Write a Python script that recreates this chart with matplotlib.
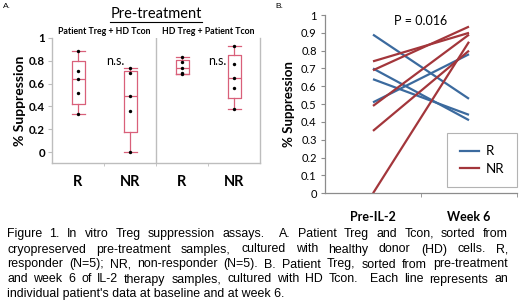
import matplotlib
matplotlib.use("Agg")
import matplotlib.pyplot as plt
import numpy as np
from matplotlib.lines import Line2D

# ---------------- data ----------------
a_groups = ["R", "NR", "R", "NR"]
a_left_R = [0.33, 0.52, 0.64, 0.71, 0.89]
a_left_NR = [0.00, 0.36, 0.49, 0.69, 0.74]
a_right_R = [0.68, 0.69, 0.74, 0.79, 0.83]
a_right_NR = [0.38, 0.56, 0.65, 0.77, 0.93]
a_yticks = [0, 0.2, 0.4, 0.6, 0.8, 1]

b_categories = ["Pre-IL-2", "Week 6"]
b_R_pre = [0.89, 0.70, 0.64, 0.51]
b_R_wk6 = [0.53, 0.41, 0.44, 0.78]
b_NR_pre = [0.74, 0.69, 0.49, 0.35, 0.00]
b_NR_wk6 = [0.90, 0.935, 0.89, 0.80, 0.85]
b_yticks = [0, 0.1, 0.2, 0.3, 0.4, 0.5, 0.6, 0.7, 0.8, 0.9, 1]

caption_lines = [
    "Figure 1. In vitro Treg suppression assays.  A. Patient Treg and Tcon, sorted from",
    "cryopreserved pre-treatment samples, cultured with healthy donor (HD) cells. R,",
    "responder (N=5); NR, non-responder (N=5). B. Patient Treg, sorted from pre-treatment",
    "and week 6 of IL-2 therapy samples, cultured with HD Tcon.  Each line represents an",
    "individual patient's data at baseline and at week 6.",
]

# ---------------- style ----------------
W, H = 520, 303
fig = plt.figure(figsize=(W / 100, H / 100), dpi=100)
fig.patch.set_facecolor("white")
FONT = "Lato"
BOXC = "#d9607a"
BLUE = "#3b6a9e"
RED = "#a3363b"
GRAY = "#bdbdbd"


def px(x, y):
    return x / W, 1 - y / H


def hinge_stats(vals):
    v = np.sort(np.asarray(vals, float))
    n = len(v)
    med = np.median(v)
    lower = v[: n // 2]
    upper = v[(n + 1) // 2:]
    return dict(med=med, q1=np.median(lower), q3=np.median(upper),
                whislo=v.min(), whishi=v.max(), fliers=[])


# ---------------- panel A ----------------
axA = fig.add_axes([52 / W, 1 - 163 / H, 208 / W, 125 / H])
groups = [a_left_R, a_left_NR, a_right_R, a_right_NR]
pos = np.arange(1, len(groups) + 1)
stats = [hinge_stats(g) for g in groups]
lp = dict(color=BOXC, linewidth=0.9)
axA.bxp(stats, positions=pos, widths=0.25, capwidths=0.25, showfliers=False,
        boxprops=lp, whiskerprops=lp, capprops=lp, medianprops=lp)
for p, g in zip(pos, groups):
    axA.scatter([p] * len(g), g, s=6, color="black", zorder=5, linewidths=0)
axA.set_xlim(0.5, 4.5)
axA.set_ylim(-0.096, 1.0)
axA.set_yticks(a_yticks)
axA.set_yticklabels([f"{t:g}" for t in a_yticks], fontsize=8.3,
                    fontweight="bold", family=FONT)
axA.set_xticks(pos)
axA.set_xticklabels(a_groups, fontsize=10.5, fontweight="bold", family=FONT)
axA.set_xticks([1.5, 2.5, 3.5], minor=True)
axA.tick_params(axis="x", which="major", length=0, pad=9)
axA.tick_params(axis="x", which="minor", length=2, color=GRAY)
axA.tick_params(axis="y", length=3, color=GRAY, pad=2)
for s in ["left", "bottom", "right"]:
    axA.spines[s].set_color(GRAY)
    axA.spines[s].set_linewidth(1.0)
axA.spines["top"].set_visible(False)
axA.axvline(2.5, color=GRAY, linewidth=1.0)
axA.set_ylabel("% Suppression", fontsize=10, fontweight="bold", family=FONT,
               labelpad=2)
axA.text(1.55, 0.8, "n.s.", fontsize=9, family=FONT, va="center", ha="left")
axA.text(3.5, 0.8, "n.s.", fontsize=9, family=FONT, va="center", ha="left")
axA.text(1.5, 1.02, "Patient Treg + HD Tcon", fontsize=6.3, fontweight="bold",
         family=FONT, ha="center", va="bottom")
axA.text(3.5, 1.02, "HD Treg + Patient Tcon", fontsize=6.3, fontweight="bold",
         family=FONT, ha="center", va="bottom")
tt = fig.text(*px(156, 14), "Pre-treatment", fontsize=10.5, family=FONT,
              ha="center", va="center")
fig.text(*px(3, 7), "A.", fontsize=6, family="Liberation Sans", va="center")

# ---------------- panel B ----------------
axB = fig.add_axes([325 / W, 1 - 193.3 / H, 192 / W, 178.3 / H])
xs = np.arange(len(b_categories))
for a, b in zip(b_R_pre, b_R_wk6):
    axB.plot(xs, [a, b], color=BLUE, linewidth=1.6, solid_capstyle="butt")
for a, b in zip(b_NR_pre, b_NR_wk6):
    axB.plot(xs, [a, b], color=RED, linewidth=1.6, solid_capstyle="butt")
axB.set_xlim(-0.5, 1.5)
axB.set_ylim(0, 1.0)
axB.set_yticks(b_yticks)
axB.set_yticklabels([f"{t:g}" for t in b_yticks], fontsize=8, family=FONT)
axB.set_xticks(xs)
axB.set_xticklabels(b_categories, fontsize=9, fontweight="bold", family=FONT)
axB.set_xticks([0.5, 1.5], minor=True)
axB.tick_params(axis="x", which="major", length=0, pad=13)
axB.tick_params(axis="x", which="minor", length=3, color="#8c8c8c")
axB.tick_params(axis="y", length=3, color="#8c8c8c", pad=3)
for s in ["top", "right"]:
    axB.spines[s].set_visible(False)
for s in ["left", "bottom"]:
    axB.spines[s].set_color("#8c8c8c")
    axB.spines[s].set_linewidth(0.9)
axB.set_ylabel("% Suppression", fontsize=9.5, fontweight="bold", family=FONT,
               labelpad=4)
axB.text(0.5, 0.965, "P = 0.016", fontsize=9, family=FONT, ha="center",
         va="center")
handles = [Line2D([], [], color=BLUE, linewidth=1.6),
           Line2D([], [], color=RED, linewidth=1.6)]
leg = axB.legend(handles, ["R", "NR"], loc="lower right",
                 bbox_to_anchor=(1.0, 0.035), borderaxespad=0,
                 frameon=True, fancybox=False,
                 edgecolor="#a0a0a0", handlelength=1.5, handletextpad=0.5,
                 borderpad=0.95, labelspacing=0.4,
                 prop=dict(family=FONT, size=9.5))
leg.get_frame().set_linewidth(0.8)
fig.text(*px(275, 6), "B.", fontsize=6, family="Liberation Sans", va="center")

# ---------------- caption (justified) ----------------
renderer = fig.canvas.get_renderer()
x0, x1 = 7, 508
ys = [234, 249.5, 264.5, 279.5, 294.5]
CAP_FS = 8.9
for i, (line, y) in enumerate(zip(caption_lines, ys)):
    if i == len(caption_lines) - 1:
        fig.text(*px(x0, y), line, fontsize=CAP_FS, family="Liberation Sans",
                 va="center", ha="left")
        continue
    words = line.split(" ")
    texts = [fig.text(0, 0, w, fontsize=CAP_FS, family="Liberation Sans",
                      va="center", ha="left") for w in words]
    widths = [t.get_window_extent(renderer).width if w else 0
              for t, w in zip(texts, words)]
    gap = (x1 - x0 - sum(widths)) / (len(words) - 1)
    cx = x0
    for t, wdt in zip(texts, widths):
        t.set_position(px(cx, y))
        cx += wdt + gap

# underline title
bb = tt.get_window_extent(renderer)
yline = bb.y0 - 1
fig.add_artist(Line2D([bb.x0 / fig.dpi / fig.get_figwidth(),
                       bb.x1 / fig.dpi / fig.get_figwidth()],
                      [yline / fig.dpi / fig.get_figheight()] * 2,
                      color="black", linewidth=0.8))

fig.savefig("out.png", dpi=100, facecolor="white")
